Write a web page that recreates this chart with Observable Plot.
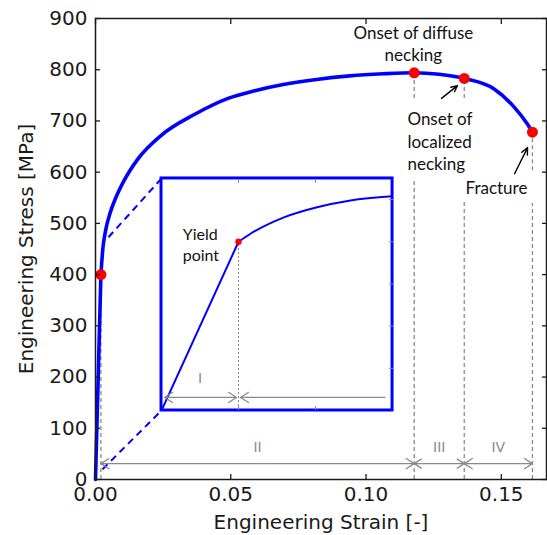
<!DOCTYPE html>
<html>
<head>
<meta charset="utf-8">
<script src="https://cdn.jsdelivr.net/npm/d3@7"></script>
<script src="https://cdn.jsdelivr.net/npm/@observablehq/plot@0.6"></script>
<style>
  body { margin: 0; background: #fff; }
  #wrap { position: relative; width: 547px; height: 535px; }
  #wrap svg { display: block; }
</style>
</head>
<body>
<div id="wrap"></div>
<script>
// ---- data ----
// main stress-strain curve
const strain = [0, 0.002, 0.0027, 0.0037, 0.0055, 0.0075, 0.0104, 0.0157, 0.0243, 0.0367, 0.049, 0.0589, 0.0694, 0.0817, 0.094, 0.1064, 0.1178, 0.127, 0.1363, 0.1472, 0.1546, 0.1595, 0.1615];
const stress = [0, 400, 450, 485, 522, 550, 582, 626, 672, 713, 744, 759, 771, 781, 788, 792, 794, 791, 783, 763, 728, 695, 678];

// zoomed curve shown in the inset
const insetCurveStrain = [0, 0.002, 0.00231, 0.00318, 0.00404, 0.00491, 0.006];
const insetCurveStress = [0, 400, 419, 458, 482, 498, 508];

const keyStrain = [0.002, 0.1178, 0.1363, 0.1615];   // yield, diffuse necking, localized necking, fracture
const keyStress = [400, 794, 783, 678];

const xTicks = [0, 0.05, 0.10, 0.15];
const yTicks = [0, 100, 200, 300, 400, 500, 600, 700, 800, 900];

const regionNames = ["II", "III", "IV"];
const regionBounds = [0.002, 0.1178, 0.1363, 0.1615];

// guide lines below the marked points (strain, from stress, to stress)
const guideX  = [0.002, 0.1178, 0.1178, 0.1363, 0.1363, 0.1615, 0.1615];
const guideY1 = [0,     0,      744,    0,      744,    0,      603];
const guideY2 = [400,   588,    794,    545,    783,    539,    678];

// inset window (in main-chart units) and zoom source points
const insetStrain = [0.0244, 0.1098];
const insetStress = [134.7, 587.7];
const zoomFromStrain = [0.0026, 0.0048];
const zoomFromStress = [20, 473];

// inset domain & ticks
const insetXDomain = [0, 0.006];
const insetYDomain = [0, 550];
const insetXTicks = [0.002, 0.004];
const insetYTicks = [100, 200, 300, 400, 500];

// annotation arrows
const annoX1 = [0.1279, 0.1549], annoY1 = [744, 597];
const annoX2 = [0.1338, 0.1597], annoY2 = [769, 648];

// ---- derived tables ----
const curve = strain.map((s, i) => ({strain: s, stress: stress[i]}));
const elastic = curve.slice(0, 2);
const plastic = curve.slice(1);
const keyPts = keyStrain.map((s, i) => ({strain: s, stress: keyStress[i]}));
const guides = guideX.map((x, i) => ({x, y1: guideY1[i], y2: guideY2[i]}));

const arrowY = 31, labelY = 62;
const regionArrows = [];
const regionLabels = [];
for (let i = 0; i < regionNames.length; i++) {
  const a = regionBounds[i], b = regionBounds[i + 1], m = (a + b) / 2;
  regionArrows.push({x1: m, x2: a}, {x1: m, x2: b});
  regionLabels.push({x: m, text: regionNames[i]});
}
const connectors = [0, 1].map(i => ({x1: zoomFromStrain[i], y1: zoomFromStress[i], x2: insetStrain[0], y2: insetStress[i]}));
const annoArrows = annoX1.map((x, i) => ({x1: x, y1: annoY1[i], x2: annoX2[i], y2: annoY2[i]}));

const BLUE = "#0000ff", RED = "#ff0000", GRAY = "#8a8a8a", INK = "#1a1a1a";
const tickFont = "DejaVu Sans";
const noteFont = "Lato";

const main = Plot.plot({
  width: 547, height: 535,
  marginLeft: 95, marginRight: 1, marginTop: 18, marginBottom: 56,
  style: {fontFamily: tickFont, fontSize: "20px", color: INK, background: "white", overflow: "visible"},
  x: {domain: [0, 0.1667]},
  y: {domain: [0, 900]},
  marks: [
    Plot.ruleX(guides, {x: "x", y1: "y1", y2: "y2", stroke: GRAY, strokeWidth: 1.3, strokeDasharray: "4,3"}),
    Plot.link(connectors, {x1: "x1", y1: "y1", x2: "x2", y2: "y2", stroke: BLUE, strokeWidth: 2, strokeDasharray: "7,5"}),
    Plot.line(elastic, {x: "strain", y: "stress", stroke: BLUE, strokeWidth: 3.6}),
    Plot.line(plastic, {x: "strain", y: "stress", stroke: BLUE, strokeWidth: 3.6, curve: "monotone-x"}),
    Plot.rect([0], {x1: insetStrain[0], x2: insetStrain[1], y1: insetStress[0], y2: insetStress[1], fill: "white", stroke: BLUE, strokeWidth: 3}),
    Plot.dot(keyPts, {x: "strain", y: "stress", r: 5.5, fill: RED}),
    Plot.arrow(regionArrows, {x1: "x1", x2: "x2", y1: arrowY, y2: arrowY, stroke: GRAY, strokeWidth: 1.3, headLength: 11, headAngle: 65}),
    Plot.text(regionLabels, {x: "x", y: labelY, text: "text", fill: GRAY, fontSize: 14, fontFamily: tickFont}),
    Plot.arrow(annoArrows, {x1: "x1", y1: "y1", x2: "x2", y2: "y2", stroke: "black", strokeWidth: 1.4, headLength: 8, headAngle: 50}),
    Plot.text(["Onset of diffuse\nnecking"], {x: 0.1175, y: 853, text: d => d, fontFamily: noteFont, fontSize: 17, lineHeight: 1.3, fill: "#111"}),
    Plot.text(["Onset of\nlocalized\nnecking"], {x: 0.1153, y: 662, text: d => d, textAnchor: "start", fontFamily: noteFont, fontSize: 17, lineHeight: 1.32, fill: "#111"}),
    Plot.text(["Fracture"], {x: 0.1482, y: 568, text: d => d, fontFamily: noteFont, fontSize: 17, fill: "#111"}),
    Plot.frame({stroke: INK, strokeWidth: 1.5}),
    Plot.axisX(xTicks, {anchor: "bottom", tickSize: -5, tickPadding: 12, strokeWidth: 1.3, tickFormat: d3.format(".2f"),
      label: "Engineering Strain [-]", labelAnchor: "center", labelOffset: 49, labelArrow: "none"}),
    Plot.axisX(xTicks, {anchor: "top", tickSize: -5, strokeWidth: 1.3, tickFormat: () => "", label: null}),
    Plot.axisY(yTicks, {anchor: "left", tickSize: -5, tickPadding: 13, strokeWidth: 1.3,
      label: "Engineering Stress [MPa]", labelAnchor: "center", labelOffset: 77, labelArrow: "none"}),
    Plot.axisY(yTicks, {anchor: "right", tickSize: -5, strokeWidth: 1.3, tickFormat: () => "", label: null})
  ]
});

const wrap = document.getElementById("wrap");
wrap.appendChild(main);

// ---- inset, placed through the main chart's scales ----
const sx = main.scale("x"), sy = main.scale("y");
const insLeft = sx.apply(insetStrain[0]), insRight = sx.apply(insetStrain[1]);
const insTop = sy.apply(insetStress[1]), insBottom = sy.apply(insetStress[0]);

const insetCurve = insetCurveStrain.map((s, i) => ({strain: s, stress: insetCurveStress[i]}));
const insetElastic = insetCurve.slice(0, 2);
const insetPlastic = insetCurve.slice(1);
const yieldPt = [{strain: keyStrain[0], stress: keyStress[0]}];

const inset = Plot.plot({
  width: insRight - insLeft, height: insBottom - insTop,
  marginLeft: 0, marginRight: 0, marginTop: 0, marginBottom: 0,
  style: {fontFamily: tickFont, fontSize: "14px", background: "transparent", overflow: "visible"},
  x: {domain: insetXDomain},
  y: {domain: insetYDomain},
  marks: [
    Plot.ruleX(yieldPt, {x: "strain", y1: 0, y2: "stress", stroke: GRAY, strokeWidth: 1, strokeDasharray: "2,2"}),
    Plot.axisX(insetXTicks, {anchor: "bottom", tickSize: -4, stroke: GRAY, tickFormat: () => "", label: null}),
    Plot.axisX(insetXTicks, {anchor: "top", tickSize: -4, stroke: GRAY, tickFormat: () => "", label: null}),
    Plot.axisY(insetYTicks, {anchor: "right", tickSize: -4, stroke: GRAY, tickFormat: () => "", label: null}),
    Plot.line(insetElastic, {x: "strain", y: "stress", stroke: BLUE, strokeWidth: 2, clip: true}),
    Plot.line(insetPlastic, {x: "strain", y: "stress", stroke: BLUE, strokeWidth: 2, curve: "monotone-x", clip: true}),
    Plot.dot(yieldPt, {x: "strain", y: "stress", r: 3.2, fill: RED}),
    Plot.arrow([{x1: 0.001, x2: 0.00008}, {x1: 0.001, x2: 0.00195}, {x1: 0.0058, x2: 0.00205}],
      {x1: "x1", x2: "x2", y1: arrowY, y2: arrowY, stroke: GRAY, strokeWidth: 1.3, headLength: 11, headAngle: 65}),
    Plot.text(["I"], {x: 0.001, y: 76, text: d => d, fill: GRAY, fontSize: 14, fontFamily: tickFont}),
    Plot.text(["Yield\npoint"], {x: 0.00055, y: 396, text: d => d, textAnchor: "start", fontFamily: noteFont, fontSize: 16, lineHeight: 1.33, fill: "#111"})
  ]
});
inset.style.position = "absolute";
inset.style.left = insLeft + "px";
inset.style.top = insTop + "px";
wrap.appendChild(inset);
</script>
</body>
</html>
